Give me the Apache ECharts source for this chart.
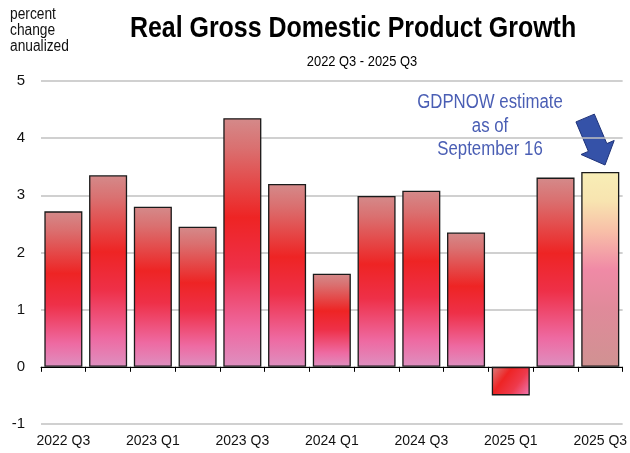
<!DOCTYPE html>
<html><head><meta charset="UTF-8">
<title>Real GDP Growth</title>
<script src="https://cdn.jsdelivr.net/npm/echarts@6/dist/echarts.min.js"></script>
<style>
  html, body { margin: 0; padding: 0; background: #fff; }
  #chart { width: 630px; height: 453px; }
</style>
</head>
<body>
<div id="chart"></div>
<script type="text/javascript">
var quarters = ['2022 Q3','2022 Q4','2023 Q1','2023 Q2','2023 Q3','2023 Q4','2024 Q1',
                '2024 Q2','2024 Q3','2024 Q4','2025 Q1','2025 Q2','2025 Q3'];
var growth = [2.72, 3.35, 2.8, 2.45, 4.35, 3.2, 1.63, 2.99, 3.08, 2.35, -0.5, 3.31, 3.41];
var yTicks = [-1, 0, 1, 2, 3, 4, 5];

var FONT = '"Liberation Sans", Arial, sans-serif';

function grad(stops, x2, y2){
  return new echarts.graphic.LinearGradient(0, 0, x2, y2, stops.map(function(s){
    return { offset: s[0], color: s[1] };
  }));
}
var redFill = grad([[0,'#d48a8a'],[0.12,'#da7070'],[0.4,'#ee2424'],[0.6,'#ee3048'],[0.85,'#ee6aa2'],[1,'#de90c0']], 0, 1);
var negFill = grad([[0,'#d98080'],[0.35,'#ee2424'],[0.65,'#ee3a4c'],[1,'#f07ab8']], 1, 1);
var estFill = grad([[0,'#f8eeb6'],[0.15,'#f8e4b0'],[0.3,'#f8c0a8'],[0.5,'#f08aa6'],[0.7,'#e08a9a'],[1,'#d09292']], 0, 1);

var barData = growth.map(function(v, i){
  var fill = redFill;
  if (v < 0) fill = negFill;
  if (i === growth.length - 1) fill = estFill;
  return { value: v, itemStyle: { color: fill } };
});

// blue arrow pointing at the estimate bar
function arrowPoints(tx, ty, dx, dy, len, shaftHalf, headHalf, headLen){
  var l = Math.sqrt(dx*dx + dy*dy), ux = dx/l, uy = dy/l, nx = uy, ny = -ux;
  var sx = tx - ux*len, sy = ty - uy*len;
  var bx = tx - ux*headLen, by = ty - uy*headLen;
  return [
    [sx - nx*shaftHalf, sy - ny*shaftHalf], [sx + nx*shaftHalf, sy + ny*shaftHalf],
    [bx + nx*shaftHalf, by + ny*shaftHalf], [bx + nx*headHalf, by + ny*headHalf],
    [tx, ty],
    [bx - nx*headHalf, by - ny*headHalf], [bx - nx*shaftHalf, by - ny*shaftHalf]
  ];
}

var chart = echarts.init(document.getElementById('chart'));
chart.setOption({
  animation: false,
  grid: { left: 41, right: 4, top: 81, bottom: 29, containLabel: false },
  xAxis: [
    { type: 'category', data: quarters, boundaryGap: true,
      axisLine: { onZero: true, lineStyle: { color: '#000', width: 1 } },
      axisTick: { show: true, interval: 0, length: 5, inside: false, lineStyle: { color: '#000' } },
      axisLabel: { show: false } },
    { type: 'category', data: quarters, position: 'bottom', boundaryGap: true,
      axisLine: { show: false, onZero: false }, axisTick: { show: false },
      axisLabel: { interval: 1, margin: 10, fontFamily: FONT, fontSize: 14, color: '#111' } }
  ],
  yAxis: {
    type: 'value', min: yTicks[0], max: yTicks[yTicks.length - 1], interval: 1,
    axisLine: { show: false }, axisTick: { show: false },
    axisLabel: { margin: 16, fontFamily: FONT, fontSize: 15, color: '#111' },
    splitLine: { lineStyle: { color: '#c0c0c0', width: 1.5 } }
  },
  series: [{
    type: 'bar', data: barData, barCategoryGap: '15%', xAxisIndex: 0,
    itemStyle: { borderColor: '#1a1a1a', borderWidth: 1.3 }
  }],
  graphic: [
    { type: 'text', x: 353, y: 14, scaleX: 0.86,
      style: { text: 'Real Gross Domestic Product Growth', font: 'bold 29px ' + FONT, fill: '#000',
               textAlign: 'center' } },
    { type: 'text', x: 362, y: 54, scaleX: 0.86,
      style: { text: '2022 Q3 - 2025 Q3', font: '15px ' + FONT, fill: '#000', textAlign: 'center' } },
    { type: 'text', x: 10, y: 7, scaleX: 0.86,
      style: { text: 'percent\nchange\nanualized', font: '16px ' + FONT, fill: '#111', lineHeight: 16 } },
    { type: 'text', x: 490, y: 91, scaleX: 0.84,
      style: { text: 'GDPNOW estimate\nas of\nSeptember 16', font: '20px ' + FONT, fill: '#4a5eb4',
               textAlign: 'center', lineHeight: 23.5 } },
    { type: 'polygon',
      shape: { points: arrowPoints(605, 165, 19, 45, 51, 10, 18, 19) },
      style: { fill: '#3552a8', stroke: '#1e3278', lineWidth: 1 } }
  ]
});
</script>
</body></html>
